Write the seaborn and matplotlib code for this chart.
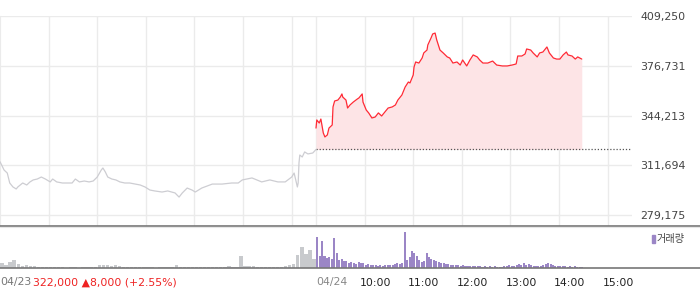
import matplotlib
matplotlib.use("Agg")
import matplotlib.pyplot as plt
from matplotlib.lines import Line2D
import seaborn as sns
import pandas as pd
import numpy as np

# ---------------- data ----------------
# 04/23 (previous day), minutes since 09:00 and price
day1_min = [0, 2, 5, 9, 12, 16, 20, 22, 25, 28, 33, 37, 41, 46, 51, 56, 62, 65, 70, 77,
            83, 89, 93, 98, 104, 110, 115, 120, 125, 127, 130, 133, 138, 143, 148, 154,
            160, 167, 173, 179, 185, 191, 200, 207, 216, 221, 225, 231, 237, 241, 249,
            262, 274, 286, 294, 299, 311, 323, 333, 343, 352, 360, 363, 365, 367, 368,
            369, 370, 373, 376, 380, 386, 390]
day1_price = [314000, 311900, 308600, 306600, 300100, 297500, 296200, 297500, 298800, 300100,
              298800, 300800, 302100, 302700, 304000, 302700, 300800, 302700, 300800, 300100,
              300100, 300100, 302700, 300800, 301400, 300800, 301400, 304000, 308600, 309900,
              307300, 304000, 302700, 302100, 300800, 300100, 300100, 299400, 298800, 297500,
              295500, 294900, 294200, 294900, 293600, 290900, 293600, 296800, 295500, 294200,
              296800, 299400, 299400, 300100, 300100, 302100, 303400, 300800, 302100, 300800,
              300800, 304000, 306600, 302100, 297500, 300100, 313200, 318400, 317100, 320400,
              319100, 319700, 322000]

# 04/24 (today), minutes since 09:00 and price
day2_min = [0, 1, 4, 6, 9, 11, 14, 16, 20, 21, 23, 27, 30, 32, 33, 37, 39, 42, 46, 51,
            53, 57, 58, 62, 65, 69, 73, 77, 81, 85, 89, 94, 98, 101, 106, 110, 114, 116,
            120, 121, 123, 127, 131, 133, 137, 138, 142, 144, 147, 149, 153, 157, 162,
            165, 169, 174, 178, 181, 186, 190, 194, 199, 202, 206, 212, 218, 223, 230,
            236, 242, 247, 249, 254, 258, 260, 265, 268, 273, 276, 280, 285, 288, 293,
            297, 301, 305, 309, 311, 316, 320, 323, 328]
day2_price = [336000, 341300, 339300, 341900, 332800, 330200, 331500, 336000, 338000, 349800,
              353700, 354300, 356300, 358300, 356300, 354300, 349100, 351100, 353000, 355000,
              355700, 358300, 353000, 347800, 345900, 342600, 343200, 345900, 343900, 346500,
              349100, 349800, 351100, 354300, 357600, 362800, 366100, 365500, 370700, 375900,
              379200, 378500, 381800, 385100, 387000, 390300, 394900, 397500, 398100, 393600,
              387000, 385100, 382500, 381800, 378500, 379200, 377200, 380500, 376600, 380500,
              383800, 382500, 380500, 378500, 378500, 379800, 377200, 376600, 376600, 377200,
              377900, 383100, 383100, 384400, 387700, 387000, 385100, 382500, 385100, 385700,
              389000, 385100, 381800, 381100, 381100, 383800, 385700, 383800, 383100, 381100,
              382500, 381100]

prev_close = 322000
y_ticks = [279175, 311694, 344213, 376731, 409250]

# volume, 04/23 in 5-minute bins, 04/24 in 3-minute bins (thousand shares)
day1_vol = [5, 3, 6, 8, 4, 2, 3, 2, 2, 1, 1, 1, 1, 1, 1, 1, 0.5, 1, 1, 0.5,
            1, 1, 1, 1, 3, 3, 3, 2, 3, 2, 1, 1, 1, 1, 1, 1, 1, 1, 0.5, 1,
            1, 1, 1, 3, 1, 1, 1, 1, 1, 1, 1, 1, 1, 1, 1, 1, 2, 1, 1, 12,
            2, 2, 2, 1, 1, 1, 1, 1, 1, 1, 2, 3, 4, 13, 21, 14, 18, 9]
day2_vol = [31, 12, 27, 12, 10, 11, 9, 30, 15, 8, 9, 7, 7, 5, 6, 5, 4, 6, 5, 5,
            3, 4, 3, 3, 3, 2, 3, 2, 3, 3, 3, 3, 4, 5, 4, 5, 36, 8, 11, 17,
            15, 12, 8, 6, 7, 15, 11, 9, 8, 7, 6, 5, 5, 4, 4, 3, 3, 3, 3, 2,
            3, 2, 2, 2, 2, 2, 2, 2, 1, 2, 1, 2, 1, 2, 1, 1, 1, 2, 2, 3,
            2, 2, 3, 4, 3, 5, 3, 4, 3, 2, 2, 2, 2, 3, 4, 5, 4, 3, 2, 2,
            2, 2, 2, 1, 2, 1, 2, 1, 1, 1]

hour_labels = ["10:00", "11:00", "12:00", "13:00", "14:00", "15:00"]
day_labels = ["04/23", "04/24"]
info_text = "322,000 \u25B28,000 (+2.55%)"
legend_label = "거래량"

# ---------------- figure ----------------
sns.set_style("white")
plt.rcParams['font.family'] = ['DejaVu Sans', 'Noto Sans CJK KR']

W, H = 700, 289
fig = plt.figure(figsize=(W / 100, H / 100), dpi=100)

def fx(px):
    return px / W

def fy(py):
    return 1 - py / H

ax_right = 632
ax = fig.add_axes([0, fy(225.5), fx(ax_right), fy(16) - fy(225.5)])
axv = fig.add_axes([0, fy(268), fx(ax_right), fy(227) - fy(268)])

DAY = 390
d1 = pd.DataFrame({"t": day1_min, "price": day1_price})
d2 = pd.DataFrame({"t": [DAY + m for m in day2_min], "price": day2_price})

grid_x = [60, 120, 180, 240, 300, 360, 390, 450, 510, 570, 630, 690, 750]
for gx in grid_x:
    ax.axvline(gx, color="#ebebeb", lw=1, zorder=0)
for gy in y_ticks:
    ax.axhline(gy, color="#ebebeb", lw=1, zorder=0)

ax.fill_between(d2["t"], d2["price"], prev_close, color="#fde4e6", lw=0, zorder=1)
sns.lineplot(data=d1, x="t", y="price", ax=ax, color="#cdcdd2", lw=0.9, estimator=None, sort=False, zorder=3)
sns.lineplot(data=d2, x="t", y="price", ax=ax, color="#ff2a35", lw=0.9, estimator=None, sort=False, zorder=3)
ax.plot([DAY, 780], [prev_close, prev_close], color="#555555", lw=0.9, ls=(0, (1, 1.5)), zorder=2)

ax.set_xlim(0, 780)
ax.set_ylim(272321, 409250)
ax.set_xlabel("")
ax.set_ylabel("")
ax.set_xticks([])
ax.yaxis.tick_right()
ax.set_yticks(y_ticks)
ax.set_yticklabels([f"{v:,}" for v in y_ticks])
ax.tick_params(axis="y", length=0, pad=6, labelsize=7.9, labelcolor="#444444")
for s in ["top", "right", "bottom"]:
    ax.spines[s].set_visible(False)
ax.spines["left"].set_color("#ebebeb")

# volume
v1x = [5 * i + 2.5 for i in range(len(day1_vol))]
v2x = [DAY + 3 * j + 1.5 for j in range(len(day2_vol))]
axv.bar(v1x, day1_vol, width=4.2, color="#c8cacd", lw=0)
axv.bar(v2x, day2_vol, width=2.5, color="#9b86c6", lw=0)
axv.set_xlim(0, 780)
axv.set_ylim(0, 41)
axv.set_yticks([])
axv.set_xticks([0.6, 390, 450, 510, 570, 630, 690, 750])
axv.set_xticklabels([])
axv.tick_params(axis="x", length=3, width=1, color="#555555", direction="out")
for s in ["top", "right", "left", "bottom"]:
    axv.spines[s].set_visible(False)

# horizontal separator lines across the full width
fig.add_artist(Line2D([0, 1], [fy(225.5), fy(225.5)], color="#777777", lw=1.2))
fig.add_artist(Line2D([0, 1], [fy(226.8), fy(226.8)], color="#e6e6e6", lw=0.8))
fig.add_artist(Line2D([0, 1], [fy(268), fy(268)], color="#777777", lw=1.2))

# x labels
ty = fy(282.5)
fs = 7.8
fig.text(fx(0), ty, day_labels[0], color="#777777", fontsize=fs, va="center", ha="left")
fig.text(fx(33), ty, info_text, color="#ee2222", fontsize=fs, va="center", ha="left")
fig.text(fx(316.5), ty, day_labels[1], color="#888888", fontsize=fs, va="center", ha="left")
for i, lab in enumerate(hour_labels):
    px = 316 + (60 * (i + 1)) * ax_right / 780 - 5
    fig.text(fx(px), ty, lab, color="#222222", fontsize=fs, va="center", ha="left")

# legend
fig.patches.append(matplotlib.patches.Rectangle((fx(652), fy(243)), fx(3), fy(235) - fy(243),
                                                 transform=fig.transFigure, color="#9b86c6"))
fig.text(fx(657), fy(239), legend_label, color="#444444", fontsize=7.3, va="center", ha="left")

fig.savefig("out.png", dpi=100)
